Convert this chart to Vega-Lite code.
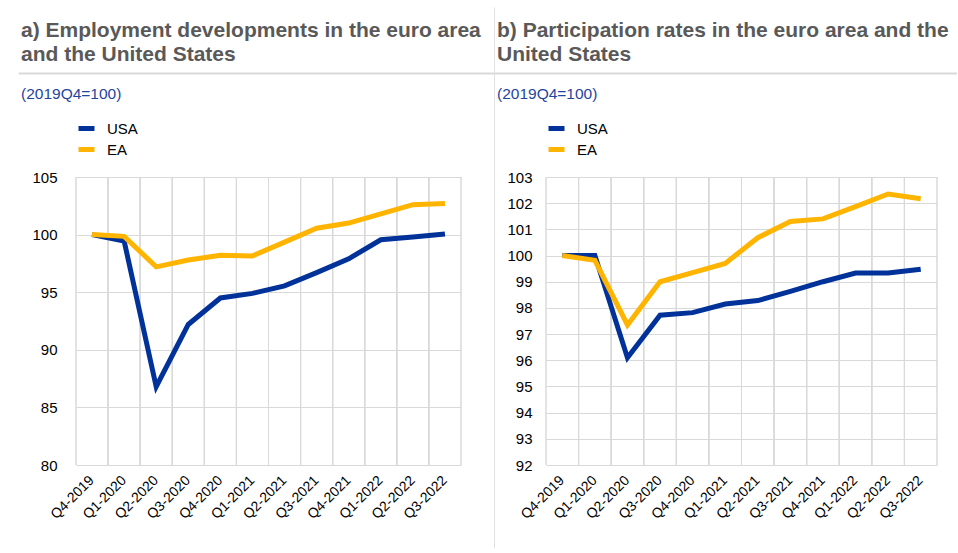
{
  "$schema": "https://vega.github.io/schema/vega-lite/v6.json",
  "background": "white",
  "padding": {"left": 18, "top": 7, "right": 0, "bottom": 0},
  "config": {
    "font": "Liberation Sans",
    "view": {"stroke": null},
    "axis": {"labelFont": "Liberation Sans", "labelFontSize": 15, "labelColor": "#000000", "gridColor": "#d9d9d9", "gridWidth": 1, "domain": false, "ticks": false, "title": null},
    "axisX": {"labelFontSize": 14},
    "legend": {"labelFont": "Liberation Sans", "labelFontSize": 15, "labelColor": "#000000", "padding": 0, "rowPadding": 0, "labelOffset": 10, "symbolType": "stroke", "symbolSize": 256, "symbolStrokeWidth": 5, "title": null},
    "title": {"font": "Liberation Sans", "subtitleFont": "Liberation Sans"}
  },
  "datasets": {
    "emp": [
      {"q": "Q4-2019", "series": "USA", "value": 100.0},
      {"q": "Q1-2020", "series": "USA", "value": 99.45},
      {"q": "Q2-2020", "series": "USA", "value": 86.8},
      {"q": "Q3-2020", "series": "USA", "value": 92.2},
      {"q": "Q4-2020", "series": "USA", "value": 94.5},
      {"q": "Q1-2021", "series": "USA", "value": 94.9},
      {"q": "Q2-2021", "series": "USA", "value": 95.55},
      {"q": "Q3-2021", "series": "USA", "value": 96.7},
      {"q": "Q4-2021", "series": "USA", "value": 97.9},
      {"q": "Q1-2022", "series": "USA", "value": 99.55},
      {"q": "Q2-2022", "series": "USA", "value": 99.8},
      {"q": "Q3-2022", "series": "USA", "value": 100.05},
      {"q": "Q4-2019", "series": "EA", "value": 100.0},
      {"q": "Q1-2020", "series": "EA", "value": 99.85},
      {"q": "Q2-2020", "series": "EA", "value": 97.2},
      {"q": "Q3-2020", "series": "EA", "value": 97.8},
      {"q": "Q4-2020", "series": "EA", "value": 98.2},
      {"q": "Q1-2021", "series": "EA", "value": 98.15},
      {"q": "Q2-2021", "series": "EA", "value": 99.35},
      {"q": "Q3-2021", "series": "EA", "value": 100.55},
      {"q": "Q4-2021", "series": "EA", "value": 101.0},
      {"q": "Q1-2022", "series": "EA", "value": 101.8},
      {"q": "Q2-2022", "series": "EA", "value": 102.6},
      {"q": "Q3-2022", "series": "EA", "value": 102.7}
    ],
    "part": [
      {"q": "Q4-2019", "series": "USA", "value": 100.0},
      {"q": "Q1-2020", "series": "USA", "value": 100.0},
      {"q": "Q2-2020", "series": "USA", "value": 96.1},
      {"q": "Q3-2020", "series": "USA", "value": 97.72},
      {"q": "Q4-2020", "series": "USA", "value": 97.82},
      {"q": "Q1-2021", "series": "USA", "value": 98.15},
      {"q": "Q2-2021", "series": "USA", "value": 98.28},
      {"q": "Q3-2021", "series": "USA", "value": 98.63},
      {"q": "Q4-2021", "series": "USA", "value": 99.0},
      {"q": "Q1-2022", "series": "USA", "value": 99.33},
      {"q": "Q2-2022", "series": "USA", "value": 99.33},
      {"q": "Q3-2022", "series": "USA", "value": 99.48},
      {"q": "Q4-2019", "series": "EA", "value": 100.0},
      {"q": "Q1-2020", "series": "EA", "value": 99.82},
      {"q": "Q2-2020", "series": "EA", "value": 97.35},
      {"q": "Q3-2020", "series": "EA", "value": 99.0},
      {"q": "Q4-2020", "series": "EA", "value": 99.35},
      {"q": "Q1-2021", "series": "EA", "value": 99.7},
      {"q": "Q2-2021", "series": "EA", "value": 100.68},
      {"q": "Q3-2021", "series": "EA", "value": 101.3},
      {"q": "Q4-2021", "series": "EA", "value": 101.4},
      {"q": "Q1-2022", "series": "EA", "value": 101.87},
      {"q": "Q2-2022", "series": "EA", "value": 102.35},
      {"q": "Q3-2022", "series": "EA", "value": 102.17}
    ]
  },
  "spacing": 0,
  "resolve": {"scale": {"color": "independent"}},
  "hconcat": [
    {
      "width": 476, "height": 541,
      "title": {"text": ["a) Employment developments in the euro area", "and the United States"], "subtitle": "(2019Q4=100)", "anchor": "start", "frame": "group", "dx": 3, "offset": -95, "fontSize": 21, "fontWeight": "bold", "color": "#595959", "lineHeight": 24, "subtitleFontSize": 15.5, "subtitleColor": "#1f45a0", "subtitleFontWeight": "normal", "subtitlePadding": 22},
      "data": {"name": "emp"},
      "resolve": {"scale": {"x": "independent", "y": "independent"}},
      "layer": [
        {
          "layer": [
            {
              "mark": {"type": "rule", "color": "#d9d9d9", "strokeWidth": 1},
              "encoding": {
                "x": {"field": "q", "type": "nominal", "sort": null, "bandPosition": 0, "scale": {"type": "band", "paddingInner": 0, "paddingOuter": 0, "range": [58, 443]}},
                "y": {"datum": 80, "scale": {"domain": [80, 105], "zero": false, "range": [458, 170]}},
                "y2": {"datum": 105}
              }
            },
            {
              "mark": {"type": "rule", "color": "#d9d9d9", "strokeWidth": 1},
              "encoding": {
                "x": {"field": "q", "type": "nominal", "sort": null, "bandPosition": 1, "scale": {"type": "band", "paddingInner": 0, "paddingOuter": 0, "range": [58, 443]}},
                "y": {"datum": 80, "scale": {"domain": [80, 105], "zero": false, "range": [458, 170]}},
                "y2": {"datum": 105}
              }
            },
            {
              "mark": {"type": "line", "strokeWidth": 5},
              "encoding": {
                "x": {"field": "q", "type": "nominal", "sort": null, "bandPosition": 0.5, "scale": {"type": "band", "paddingInner": 0, "paddingOuter": 0, "range": [58, 443]}, "axis": {"orient": "bottom", "offset": -83, "grid": false, "labelAngle": -45, "labelPadding": 13}},
                "y": {"field": "value", "type": "quantitative", "scale": {"domain": [80, 105], "zero": false, "range": [458, 170]}, "axis": {"orient": "left", "offset": 0, "values": [80, 85, 90, 95, 100, 105], "labelPadding": -39, "grid": true}},
                "color": {"field": "series", "type": "nominal", "scale": {"domain": ["USA", "EA"], "range": ["#003299", "#ffb400"]}, "legend": {"orient": "none", "legendX": 58, "legendY": 111, "direction": "vertical"}}
              }
            }
          ]
        },
        {
          "mark": {"type": "point", "opacity": 0},
          "encoding": {
            "x": {"field": "q", "type": "nominal", "sort": null, "axis": {"orient": "top", "offset": -66, "labels": false, "ticks": false, "grid": false, "domain": true, "domainColor": "#d9d9d9", "domainWidth": 2}},
            "y": {"field": "value", "type": "quantitative", "axis": {"orient": "right", "labels": false, "ticks": false, "grid": false, "domain": true, "domainColor": "#e0e0e0", "domainWidth": 1}}
          }
        }
      ]
    },
    {
      "width": 463, "height": 541,
      "title": {"text": ["b) Participation rates in the euro area and the", "United States"], "subtitle": "(2019Q4=100)", "anchor": "start", "frame": "group", "dx": 3, "offset": -95, "fontSize": 21, "fontWeight": "bold", "color": "#595959", "lineHeight": 24, "subtitleFontSize": 15.5, "subtitleColor": "#1f45a0", "subtitleFontWeight": "normal", "subtitlePadding": 22},
      "data": {"name": "part"},
      "resolve": {"scale": {"x": "independent", "y": "independent"}},
      "layer": [
        {
          "layer": [
            {
              "mark": {"type": "rule", "color": "#d9d9d9", "strokeWidth": 1},
              "encoding": {
                "x": {"field": "q", "type": "nominal", "sort": null, "bandPosition": 0, "scale": {"type": "band", "paddingInner": 0, "paddingOuter": 0, "range": [52, 443]}},
                "y": {"datum": 92, "scale": {"domain": [92, 103], "zero": false, "range": [458, 170]}},
                "y2": {"datum": 103}
              }
            },
            {
              "mark": {"type": "rule", "color": "#d9d9d9", "strokeWidth": 1},
              "encoding": {
                "x": {"field": "q", "type": "nominal", "sort": null, "bandPosition": 1, "scale": {"type": "band", "paddingInner": 0, "paddingOuter": 0, "range": [52, 443]}},
                "y": {"datum": 92, "scale": {"domain": [92, 103], "zero": false, "range": [458, 170]}},
                "y2": {"datum": 103}
              }
            },
            {
              "mark": {"type": "line", "strokeWidth": 5},
              "encoding": {
                "x": {"field": "q", "type": "nominal", "sort": null, "bandPosition": 0.5, "scale": {"type": "band", "paddingInner": 0, "paddingOuter": 0, "range": [52, 443]}, "axis": {"orient": "bottom", "offset": -83, "grid": false, "labelAngle": -45, "labelPadding": 13}},
                "y": {"field": "value", "type": "quantitative", "scale": {"domain": [92, 103], "zero": false, "range": [458, 170]}, "axis": {"orient": "left", "offset": 0, "values": [92, 93, 94, 95, 96, 97, 98, 99, 100, 101, 102, 103], "labelPadding": -38, "grid": true}},
                "color": {"field": "series", "type": "nominal", "scale": {"domain": ["USA", "EA"], "range": ["#003299", "#ffb400"]}, "legend": {"orient": "none", "legendX": 52, "legendY": 111, "direction": "vertical"}}
              }
            }
          ]
        },
        {
          "mark": {"type": "point", "opacity": 0},
          "encoding": {
            "x": {"field": "q", "type": "nominal", "sort": null, "axis": {"orient": "top", "offset": -66, "labels": false, "ticks": false, "grid": false, "domain": true, "domainColor": "#d9d9d9", "domainWidth": 2}},
            "y": {"field": "value", "type": "quantitative", "axis": {"orient": "right", "labels": false, "ticks": false, "grid": false, "domain": true, "domainColor": "#ffffff", "domainOpacity": 0, "domainWidth": 1}}
          }
        }
      ]
    }
  ]
}
